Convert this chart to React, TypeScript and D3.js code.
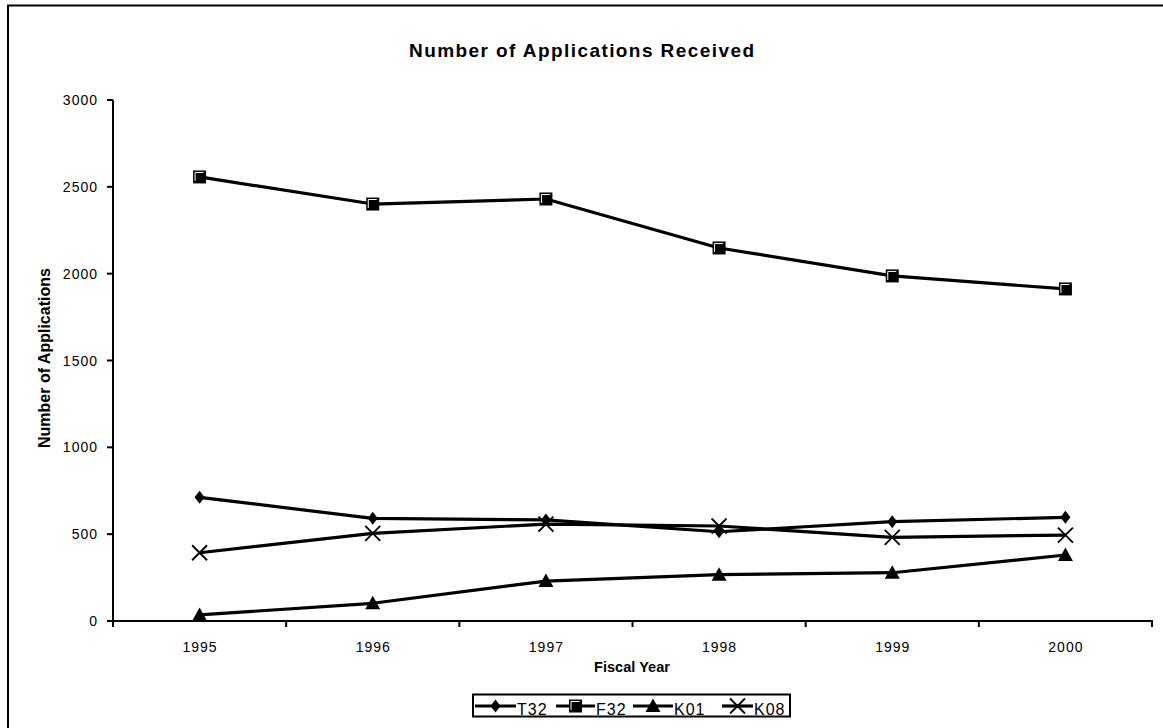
import React, { useEffect, useRef } from 'react';
import * as d3 from 'd3';

const years = ['1995', '1996', '1997', '1998', '1999', '2000'];
const t32 = [712, 591, 582, 514, 572, 597];
const f32 = [2557, 2401, 2430, 2148, 1987, 1912];
const k01 = [35, 102, 230, 267, 278, 380];
const k08 = [393, 505, 558, 547, 482, 495];
const yTicks = [0, 500, 1000, 1500, 2000, 2500, 3000];

const seriesNames = ['T32', 'F32', 'K01', 'K08'];
const seriesValues = [t32, f32, k01, k08];

const W = 1163;
const H = 728;
const FONT = '"Liberation Sans", Arial, sans-serif';

// draw one marker centered on (0,0) inside g
function drawMarker(g: d3.Selection<SVGGElement, unknown, null, undefined>, name: string) {
    if (name === 'T32') {
        g.append('path').attr('d', 'M0,-6.5L5,0L0,6.5L-5,0Z').attr('fill', '#000');
    } else if (name === 'F32') {
        g.append('rect').attr('x', -6.5).attr('y', -6.5).attr('width', 13).attr('height', 13).attr('fill', '#000');
        g.append('path').attr('d', 'M-4.5,4V-4.5H4').attr('fill', 'none').attr('stroke', '#fff').attr('stroke-width', 1);
    } else if (name === 'K01') {
        g.append('path').attr('d', 'M0,-7.5L7.5,6L-7.5,6Z').attr('fill', '#000');
    } else {
        g.append('path').attr('d', 'M-7.5,-7.5L7.5,7.5M7.5,-7.5L-7.5,7.5').attr('stroke', '#000').attr('stroke-width', 1.8);
    }
}

export default function App() {
    const svgRef = useRef<SVGSVGElement>(null);

    useEffect(() => {
        if (!svgRef.current) return;
        const svg = d3.select(svgRef.current);
        svg.selectAll('*').remove();

        const left = 113, right = 1152, top = 100, bottom = 621;

        const x = d3.scaleBand<string>().domain(years).range([left, right]);
        const y = d3.scaleLinear().domain([0, 3000]).range([bottom, top]);

        // outer frame (extends past the page)
        svg.append('rect')
            .attr('x', 8).attr('y', 5.5).attr('width', 1300).attr('height', 900)
            .attr('fill', '#fff').attr('stroke', '#000').attr('stroke-width', 2);

        svg.append('text')
            .attr('x', 409).attr('y', 57)
            .attr('textLength', 345).attr('lengthAdjust', 'spacing')
            .attr('font-family', FONT).attr('font-size', 19).attr('font-weight', 'bold')
            .text('Number of Applications Received');

        // y axis
        const yAxis = svg.append('g');
        yAxis.append('line')
            .attr('x1', left).attr('x2', left).attr('y1', top).attr('y2', bottom)
            .attr('stroke', '#000').attr('stroke-width', 2);
        yTicks.forEach((t) => {
            yAxis.append('line')
                .attr('x1', left - 6).attr('x2', left).attr('y1', y(t)).attr('y2', y(t))
                .attr('stroke', '#000').attr('stroke-width', 2);
            yAxis.append('text')
                .attr('x', left - 15).attr('y', y(t) + 5)
                .attr('text-anchor', 'end')
                .attr('letter-spacing', 1)
                .attr('font-family', FONT).attr('font-size', 14)
                .text(t);
        });

        // x axis
        const xAxis = svg.append('g');
        xAxis.append('line')
            .attr('x1', left - 6).attr('x2', right + 1).attr('y1', bottom).attr('y2', bottom)
            .attr('stroke', '#000').attr('stroke-width', 2);
        const bounds = years.map((yr) => x(yr) as number).concat([right]);
        bounds.forEach((bx) => {
            xAxis.append('line')
                .attr('x1', bx).attr('x2', bx).attr('y1', bottom).attr('y2', bottom + 6)
                .attr('stroke', '#000').attr('stroke-width', 2);
        });
        years.forEach((yr) => {
            xAxis.append('text')
                .attr('x', (x(yr) as number) + x.bandwidth() / 2 + 0.5).attr('y', bottom + 31)
                .attr('text-anchor', 'middle')
                .attr('letter-spacing', 1)
                .attr('font-family', FONT).attr('font-size', 14)
                .text(yr);
        });

        svg.append('text')
            .attr('x', 594).attr('y', 672)
            .attr('textLength', 76).attr('lengthAdjust', 'spacing')
            .attr('font-family', FONT).attr('font-size', 14.5).attr('font-weight', 'bold')
            .text('Fiscal Year');

        svg.append('text')
            .attr('transform', 'translate(50,448) rotate(-90)')
            .attr('font-family', FONT).attr('font-size', 16).attr('font-weight', 'bold')
            .text('Number of Applications');

        // series
        const line = d3.line<number>()
            .x((_, i) => (x(years[i]) as number) + x.bandwidth() / 2)
            .y((d) => y(d));

        seriesValues.forEach((vals) => {
            svg.append('path')
                .attr('d', line(vals))
                .attr('fill', 'none').attr('stroke', '#000').attr('stroke-width', 3.2)
                .attr('stroke-linejoin', 'round');
        });
        seriesValues.forEach((vals, si) => {
            vals.forEach((v, i) => {
                const g = svg.append('g')
                    .attr('transform', `translate(${(x(years[i]) as number) + x.bandwidth() / 2},${y(v)})`);
                drawMarker(g, seriesNames[si]);
            });
        });

        // legend
        const legend = svg.append('g');
        legend.append('rect')
            .attr('x', 473).attr('y', 694.5).attr('width', 317).attr('height', 22)
            .attr('fill', '#fff').attr('stroke', '#000').attr('stroke-width', 2);
        const lineStarts = [475, 556, 633, 722];
        const lineEnds = [516, 595, 673, 753];
        seriesNames.forEach((name, i) => {
            const cy = 706;
            legend.append('line')
                .attr('x1', lineStarts[i]).attr('x2', lineEnds[i]).attr('y1', cy).attr('y2', cy)
                .attr('stroke', '#000').attr('stroke-width', 3.2);
            const g = legend.append('g')
                .attr('transform', `translate(${(lineStarts[i] + lineEnds[i]) / 2},${cy})`);
            drawMarker(g, name);
            legend.append('text')
                .attr('x', lineEnds[i] + 1).attr('y', 715)
                .attr('letter-spacing', 1)
                .attr('font-family', FONT).attr('font-size', 16)
                .text(name);
        });
    }, []);

    return (
        <svg
            ref={svgRef}
            width={W}
            height={H}
            style={{ position: 'absolute', left: 0, top: 0, background: '#fff' }}
        />
    );
}
